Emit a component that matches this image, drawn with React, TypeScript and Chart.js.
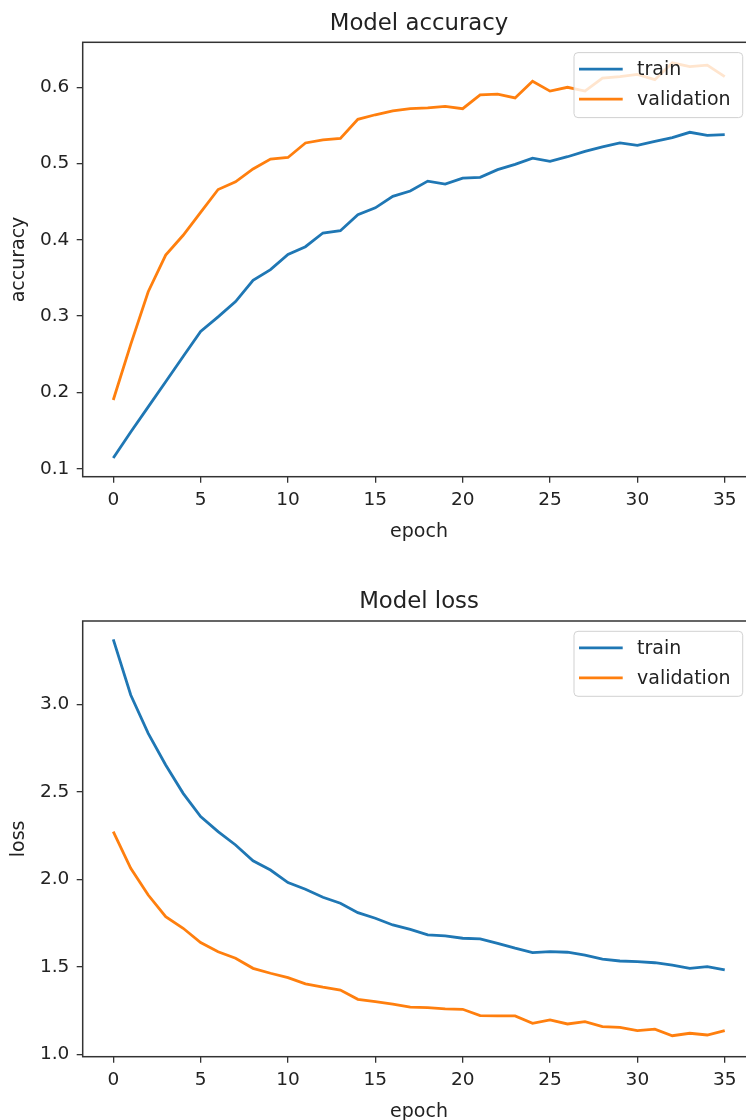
import React, { useEffect, useRef } from 'react';
import { Chart, registerables } from 'chart.js';

Chart.register(...registerables);

// ---------- data ----------
const epochs = [0, 1, 2, 3, 4, 5, 6, 7, 8, 9, 10, 11, 12, 13, 14, 15, 16, 17, 18, 19, 20, 21, 22, 23, 24, 25, 26, 27, 28, 29, 30, 31, 32, 33, 34, 35];

const trainAcc = [0.114, 0.148, 0.181, 0.214, 0.247, 0.280, 0.299, 0.319, 0.347, 0.361, 0.381, 0.391, 0.409, 0.412, 0.433, 0.442, 0.457, 0.464, 0.477, 0.473, 0.481, 0.482, 0.492, 0.499, 0.507, 0.503, 0.509, 0.516, 0.522, 0.527, 0.524, 0.529, 0.534, 0.541, 0.537, 0.538];
const valAcc = [0.190, 0.263, 0.332, 0.380, 0.406, 0.436, 0.466, 0.476, 0.493, 0.506, 0.508, 0.527, 0.531, 0.533, 0.558, 0.564, 0.569, 0.572, 0.573, 0.575, 0.572, 0.590, 0.591, 0.586, 0.608, 0.595, 0.600, 0.595, 0.612, 0.614, 0.617, 0.610, 0.632, 0.627, 0.629, 0.614];

const trainLoss = [3.371, 3.053, 2.834, 2.653, 2.491, 2.358, 2.272, 2.196, 2.106, 2.053, 1.981, 1.943, 1.897, 1.863, 1.809, 1.777, 1.739, 1.714, 1.682, 1.676, 1.663, 1.659, 1.634, 1.606, 1.581, 1.586, 1.583, 1.567, 1.543, 1.533, 1.529, 1.523, 1.510, 1.491, 1.501, 1.482];
const valLoss = [2.272, 2.063, 1.910, 1.786, 1.720, 1.638, 1.586, 1.549, 1.491, 1.463, 1.438, 1.402, 1.383, 1.367, 1.314, 1.301, 1.287, 1.269, 1.266, 1.259, 1.257, 1.221, 1.219, 1.219, 1.177, 1.196, 1.173, 1.186, 1.158, 1.154, 1.135, 1.143, 1.106, 1.120, 1.110, 1.135];

const xTicks = [0, 5, 10, 15, 20, 25, 30, 35];
const accTicks = [0.1, 0.2, 0.3, 0.4, 0.5, 0.6];
const lossTicks = [1.0, 1.5, 2.0, 2.5, 3.0];

const seriesNames = ['train', 'validation'];
const seriesColors = ['#1f77b4', '#ff7f0e'];

// ---------- style ----------
const FONT = '"DejaVu Sans", "Liberation Sans", sans-serif';
const TEXT = '#222';
const SPINE = '#333';
const LINE_W = 2.8;
const CANVAS_W = 770;
const CANVAS_H = 560;

type PanelProps = {
  title: string;
  xLabel: string;
  yLabel: string;
  train: number[];
  val: number[];
  yMin: number;
  yMax: number;
  yTicks: number[];
  top: number;
  areaTop: number;
  areaBottom: number;
};

function makeDeco(title: string, xLabel: string, yLabel: string) {
  return {
    id: 'deco',
    afterDraw(chart: any) {
      const ctx: CanvasRenderingContext2D = chart.ctx;
      const a = chart.chartArea;
      ctx.save();
      // spines
      ctx.strokeStyle = SPINE;
      ctx.lineWidth = 1.5;
      ctx.strokeRect(a.left, a.top, a.right - a.left, a.bottom - a.top);

      const cx = (a.left + a.right) / 2;
      ctx.fillStyle = TEXT;
      ctx.textAlign = 'center';
      ctx.textBaseline = 'alphabetic';
      ctx.font = `22.8px ${FONT}`;
      ctx.fillText(title, cx, a.top - 12.7);

      ctx.font = `19px ${FONT}`;
      ctx.fillText(xLabel, cx, a.bottom + 60);

      ctx.save();
      ctx.translate(24, (a.top + a.bottom) / 2);
      ctx.rotate(-Math.PI / 2);
      ctx.fillText(yLabel, 0, 0);
      ctx.restore();

      // legend
      const boxR = a.right - 12.6;
      const boxL = boxR - 168.7;
      const boxT = a.top + 10.3;
      const boxH = 65;
      ctx.beginPath();
      (ctx as any).roundRect(boxL, boxT, boxR - boxL, boxH, 4);
      ctx.fillStyle = 'rgba(255,255,255,0.8)';
      ctx.fill();
      ctx.strokeStyle = 'rgba(204,204,204,0.9)';
      ctx.lineWidth = 1;
      ctx.stroke();

      const rows = [boxT + 16.5, boxT + 46.5];
      rows.forEach((y, i) => {
        ctx.beginPath();
        ctx.strokeStyle = seriesColors[i];
        ctx.lineWidth = LINE_W;
        ctx.moveTo(boxL + 5, y);
        ctx.lineTo(boxL + 48.7, y);
        ctx.stroke();
        ctx.fillStyle = TEXT;
        ctx.textAlign = 'left';
        ctx.textBaseline = 'middle';
        ctx.font = `19px ${FONT}`;
        ctx.fillText(seriesNames[i], boxL + 63, y + 1);
      });
      ctx.restore();
    },
  };
}

function Panel(p: PanelProps) {
  const ref = useRef<HTMLCanvasElement | null>(null);
  useEffect(() => {
    if (!ref.current) return;
    const xAxisH = CANVAS_H - p.areaBottom;
    const chart = new Chart(ref.current, {
      type: 'line',
      data: {
        datasets: [
          {
            label: seriesNames[0],
            data: epochs.map((e, i) => ({ x: e, y: p.train[i] })),
            borderColor: seriesColors[0],
            borderWidth: LINE_W,
            pointRadius: 0,
            tension: 0,
            fill: false,
          },
          {
            label: seriesNames[1],
            data: epochs.map((e, i) => ({ x: e, y: p.val[i] })),
            borderColor: seriesColors[1],
            borderWidth: LINE_W,
            pointRadius: 0,
            tension: 0,
            fill: false,
          },
        ],
      },
      options: {
        responsive: false,
        animation: false,
        devicePixelRatio: 1,
        layout: { padding: { top: p.areaTop, left: 0, right: CANVAS_W - 755.3, bottom: 0 } },
        plugins: { legend: { display: false }, tooltip: { enabled: false }, title: { display: false } },
        scales: {
          x: {
            type: 'linear',
            min: -1.75,
            max: 36.75,
            afterBuildTicks: (s: any) => {
              s.ticks = xTicks.map((v) => ({ value: v }));
            },
            afterFit: (s: any) => {
              s.height = xAxisH;
            },
            grid: { drawOnChartArea: false, drawTicks: true, tickLength: 6, color: SPINE, lineWidth: 1.3 },
            border: { display: false },
            ticks: {
              autoSkip: false,
              maxRotation: 0,
              padding: 6,
              color: TEXT,
              font: { family: FONT, size: 18.5 },
              callback: (v: any) => String(v),
            },
          },
          y: {
            type: 'linear',
            min: p.yMin,
            max: p.yMax,
            afterBuildTicks: (s: any) => {
              s.ticks = p.yTicks.map((v) => ({ value: v }));
            },
            afterFit: (s: any) => {
              s.width = 82.7;
            },
            grid: { drawOnChartArea: false, drawTicks: true, tickLength: 6, color: SPINE, lineWidth: 1.3 },
            border: { display: false },
            ticks: {
              padding: 7.4,
              color: TEXT,
              font: { family: FONT, size: 18.5 },
              callback: (v: any) => Number(v).toFixed(1),
            },
          },
        },
      },
      plugins: [makeDeco(p.title, p.xLabel, p.yLabel)],
    } as any);
    return () => chart.destroy();
  }, []);
  return (
    <canvas
      ref={ref}
      width={CANVAS_W}
      height={CANVAS_H}
      style={{ position: 'absolute', left: 0, top: p.top, width: CANVAS_W, height: CANVAS_H }}
    />
  );
}

export default function App() {
  return (
    <div
      style={{
        position: 'absolute',
        left: 0,
        top: 0,
        width: 746,
        height: 1120,
        overflow: 'hidden',
        background: '#fff',
      }}
    >
      <Panel
        title="Model accuracy"
        xLabel="epoch"
        yLabel="accuracy"
        train={trainAcc}
        val={valAcc}
        yMin={0.0895}
        yMax={0.659}
        yTicks={accTicks}
        top={0}
        areaTop={42.3}
        areaBottom={476.7}
      />
      <Panel
        title="Model loss"
        xLabel="epoch"
        yLabel="loss"
        train={trainLoss}
        val={valLoss}
        yMin={0.986}
        yMax={3.476}
        yTicks={lossTicks}
        top={560}
        areaTop={61}
        areaBottom={496.7}
      />
    </div>
  );
}
